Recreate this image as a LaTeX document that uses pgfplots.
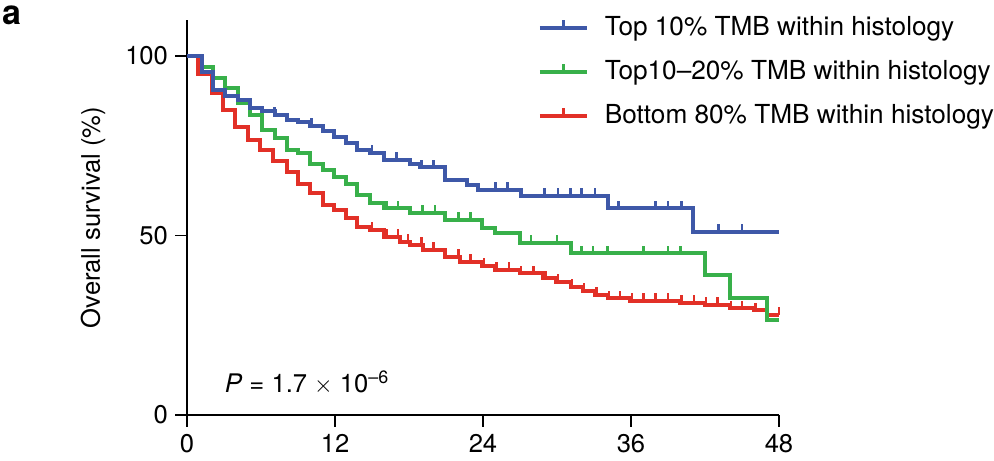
\documentclass[border=0pt]{standalone}
\usepackage{pgfplots}
\pgfplotsset{compat=1.18}
\usepackage{fontspec}
\setmainfont{TeX Gyre Heros}

\definecolor{kmblue}{RGB}{62,88,168}
\definecolor{kmgreen}{RGB}{56,176,74}
\definecolor{kmred}{RGB}{226,48,39}

\newcommand\fs{\fontsize{12.8bp}{15bp}\selectfont}
\newcommand\lfs{\fontsize{13.1bp}{15bp}\selectfont}

% censoring tick: short upward stroke
\pgfdeclareplotmark{cens}{%
  \pgfpathmoveto{\pgfqpoint{0pt}{0pt}}%
  \pgfpathlineto{\pgfqpoint{0pt}{3.8bp}}%
  \pgfusepathqstroke}

\begin{document}
\begin{tikzpicture}[font=\fs]
\begin{axis}[
  scale only axis,
  width=296bp, height=197.5bp,
  xmin=0, xmax=48, ymin=0, ymax=110,
  axis lines*=left,
  axis line style={line width=0.8bp},
  xtick={0,12,24,36,48},
  ytick={0,50,100},
  tick align=outside,
  major tick length=6bp,
  tick style={black, line width=0.8bp},
  /pgf/number format/assume math mode=true,
  ticklabel style={font=\fs},
  ylabel={Overall survival (\%)},
  ylabel style={at={(axis description cs:-0.1588,0.5)}, anchor=center, font=\fs},
  clip=false,
  reverse legend,
  legend cell align=left,
  legend style={draw=none, fill=none, font=\lfs, inner sep=0pt,
    at={(axis description cs:0.592,1.02)}, anchor=north west,
    row sep=7bp,
    /tikz/every odd column/.append style={column sep=6bp}},
  legend image code/.code={%
    \draw[#1, line width=2bp] (0bp,0bp) -- (23.5bp,0bp);
    \draw[#1, line width=1.2bp] (11.75bp,0bp) -- (11.75bp,3.8bp);},
  every axis plot/.append style={line width=2bp},
]

% Bottom 80% TMB within histology
\addplot[kmred, const plot] coordinates {
  (0,100) (0.9,95) (2.0,89.6) (2.9,85) (3.9,80.3) (4.96,76.6) (5.9,73.8)
  (7.0,70.6) (8.1,67.8) (9.0,64.3) (10.0,61.8) (11.0,58.5) (11.9,57.1)
  (12.9,54.8) (13.8,52.4) (14.8,51.5) (16.0,49.7) (17.3,48.3) (18.1,47.4)
  (19.1,46) (20.9,44.1) (22.1,42.7) (23.9,41.5) (25.0,40.4) (27.0,39.5)
  (28.9,38.1) (29.9,37.1) (31.1,35.7) (32.1,34.6) (33.1,33.4) (34.1,32.5)
  (35.9,31.8) (40.0,31.3) (42.0,30.6) (44.0,29.7) (46.0,29.1) (47.0,27.9)
  (48,27.9)
};
\addlegendentry{Bottom 80\% TMB within histology}

% Top 10-20% TMB within histology
\addplot[kmgreen, const plot] coordinates {
  (0,100) (1.2,97) (2.1,93.8) (3.1,91) (4.1,86.9) (5.1,83.6) (6.1,79.4)
  (7.1,77.2) (8.1,73.8) (9.0,72.9) (10.0,69.9) (11.0,68.2) (11.9,66.2)
  (12.9,64.3) (13.8,61.3) (14.8,59) (16.0,57.6) (18.1,56.3) (20.9,54.3)
  (23.9,52) (25.0,50.6) (27.0,48) (31.1,45) (42.0,39) (44.0,32.5)
  (47.0,26.5) (48,26.5)
};
\addlegendentry{Top10--20\% TMB within histology}

% Top 10% TMB within histology
\addplot[kmblue, const plot] coordinates {
  (0,100) (1.2,95.5) (2.1,90.5) (3.1,88.7) (4.1,87.7) (5.1,85.5) (6.1,84.7)
  (7.1,83.6) (8.1,82.2) (9.0,81.6) (10.0,80.5) (11.0,79.2) (11.9,77.5)
  (12.9,75.8) (13.8,73.8) (14.8,73) (16.0,71) (18.1,70) (18.9,69)
  (20.9,65.5) (22.7,64) (23.6,62.7) (27.1,61) (34.1,57.5) (41.0,51)
  (48,51)
};
\addlegendentry{Top 10\% TMB within histology}

% censored observations
\addplot[kmred, only marks, mark=cens, mark options={line width=1.2bp}, forget plot] coordinates {
  (15.0,51.5) (16.2,49.7) (17.1,49.7) (17.9,48.3) (19.0,47.4) (20.0,46)
  (22.0,44.1) (23.0,42.7) (24.1,41.5) (25.1,40.4) (26.1,40.4) (27.1,39.5)
  (28.1,39.5) (29.1,38.1) (30.1,37.1) (31.2,35.7) (32.2,34.6) (33.2,33.4)
  (34.2,32.5) (35.1,32.5) (36.1,31.8) (37.0,31.8) (38.0,31.8) (39.0,31.8)
  (40.1,31.3) (41.1,31.3) (42.1,30.6) (43.0,30.6) (44.1,29.7) (45.0,29.7)
  (46.1,29.1) (48.0,27.9)
};
\addplot[kmgreen, only marks, mark=cens, mark options={line width=1.2bp}, forget plot] coordinates {
  (16.2,57.6) (17.1,57.6) (19.1,56.3) (20.1,56.3) (22.0,54.3) (23.0,54.3)
  (27.9,48) (30.0,48) (32.0,45) (32.9,45) (34.1,45) (37.0,45) (39.0,45)
  (40.0,45)
};
\addplot[kmblue, only marks, mark=cens, mark options={line width=1.2bp}, forget plot] coordinates {
  (7.1,83.6) (10.1,80.5) (15.0,73) (17.0,71) (19.0,69) (20.0,69)
  (25.0,62.7) (26.0,62.7) (29.0,61) (30.1,61) (31.1,61) (32.0,61)
  (33.1,61) (35.0,57.5) (38.0,57.5) (39.0,57.5) (40.1,57.5) (43.1,51)
  (45.0,51)
};

\node[anchor=west, font=\fs] at (axis cs:2.5,9) {\textit{P} = 1.7 \ensuremath{\times} 10\textsuperscript{–6}};
\node[font=\bfseries\fontsize{17bp}{19bp}\selectfont] at (axis description cs:-0.295,1.013) {a};

\coordinate (bbsw) at (axis description cs:-0.3159,-0.1165);
\coordinate (bbne) at (axis description cs:1.3632,1.0506);
\end{axis}
\pgfresetboundingbox
\path[use as bounding box] (bbsw) rectangle (bbne);
\end{tikzpicture}
\end{document}
